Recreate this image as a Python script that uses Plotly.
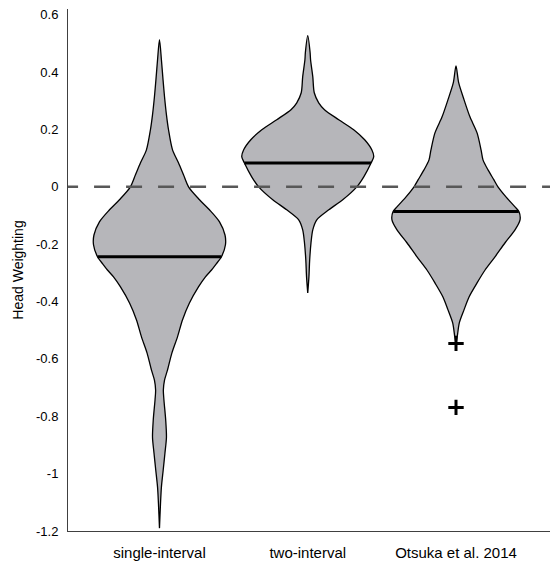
import numpy as np
import plotly.graph_objects as go

categories = ["single-interval", "two-interval", "Otsuka et al. 2014"]
positions = [1, 2, 3]

# density profiles: y values and half-widths (x units)
single_y = [0.513, 0.443, 0.373, 0.314, 0.251, 0.199, 0.129, 0.084, 0.042, 0.0,
            -0.045, -0.080, -0.122, -0.168, -0.202, -0.244, -0.272, -0.290, -0.314,
            -0.349, -0.405, -0.464, -0.524, -0.579, -0.639, -0.674, -0.709, -0.743,
            -0.813, -0.873, -0.928, -0.988, -1.047, -1.103, -1.190]
single_w = [0.0, 0.013, 0.024, 0.034, 0.047, 0.061, 0.088, 0.128, 0.162, 0.196,
            0.270, 0.337, 0.405, 0.442, 0.445, 0.418, 0.378, 0.351, 0.310,
            0.263, 0.202, 0.155, 0.121, 0.084, 0.054, 0.034, 0.026, 0.030,
            0.042, 0.047, 0.037, 0.025, 0.013, 0.007, 0.0]

two_y = [0.527, 0.468, 0.443, 0.384, 0.328, 0.293, 0.269, 0.234, 0.199, 0.164,
         0.129, 0.105, 0.084, 0.035, 0.0, -0.045, -0.080, -0.115, -0.150, -0.195,
         -0.255, -0.314, -0.370]
two_w = [0.0, 0.016, 0.019, 0.034, 0.044, 0.074, 0.113, 0.209, 0.310, 0.384,
         0.432, 0.445, 0.428, 0.378, 0.331, 0.236, 0.142, 0.061, 0.034, 0.022,
         0.013, 0.008, 0.0]

otsuka_y = [0.422, 0.363, 0.304, 0.244, 0.188, 0.129, 0.094, 0.059, 0.024, 0.0,
            -0.035, -0.070, -0.087, -0.115, -0.150, -0.195, -0.244, -0.290, -0.335,
            -0.384, -0.429, -0.475, -0.524, -0.545]
otsuka_w = [0.0, 0.018, 0.054, 0.094, 0.142, 0.169, 0.182, 0.216, 0.256, 0.283,
            0.337, 0.398, 0.425, 0.432, 0.398, 0.331, 0.263, 0.196, 0.142,
            0.088, 0.054, 0.022, 0.008, 0.0]

medians = [-0.244, 0.083, -0.086]
outliers_y = [-0.546, -0.769]
outliers_x = [3, 3]

y_ticks = [-1.2, -1.0, -0.8, -0.6, -0.4, -0.2, 0.0, 0.2, 0.4, 0.6]
y_ticktext = ["-1.2", "-1", "-0.8", "-0.6", "-0.4", "-0.2", "0", "0.2", "0.4", "0.6"]

FILL = "rgb(182,182,186)"
FONT = "Liberation Sans, Arial, sans-serif"

fig = go.Figure()

profiles = [(single_y, single_w), (two_y, two_w), (otsuka_y, otsuka_w)]
for pos, (ys, ws) in zip(positions, profiles):
    ys = np.array(ys)
    ws = np.array(ws)
    xs = np.concatenate([pos + ws, (pos - ws)[::-1]])
    yy = np.concatenate([ys, ys[::-1]])
    fig.add_trace(go.Scatter(x=xs, y=yy, mode="lines", fill="toself",
                             fillcolor=FILL,
                             line=dict(color="black", width=1.3, shape="spline", smoothing=0.8),
                             hoverinfo="skip", showlegend=False))

# dashed zero line
fig.add_trace(go.Scatter(x=[0.343, 3.8], y=[0, 0], mode="lines",
                         line=dict(color="rgb(88,88,88)", width=2.5, dash="16px,16px"),
                         hoverinfo="skip", showlegend=False))

# medians
for pos, (ys, ws), m in zip(positions, profiles, medians):
    order = np.argsort(ys)
    hw = float(np.interp(m, np.array(ys)[order], np.array(ws)[order]))
    fig.add_trace(go.Scatter(x=[pos - hw, pos + hw], y=[m, m], mode="lines",
                             line=dict(color="black", width=3),
                             hoverinfo="skip", showlegend=False))

# outliers
fig.add_trace(go.Scatter(x=outliers_x, y=outliers_y, mode="markers",
                         marker=dict(symbol="cross-thin", size=11,
                                     line=dict(color="black", width=3)),
                         hoverinfo="skip", showlegend=False))

fig.update_layout(
    width=550, height=568,
    margin=dict(l=68, r=0, t=9, b=37),
    plot_bgcolor="white", paper_bgcolor="white",
    font=dict(family=FONT, size=13, color="black"),
    showlegend=False,
)
fig.update_xaxes(range=[0.383, 3.634], tickvals=positions, ticktext=categories,
                 showline=True, linecolor="rgb(64,64,64)", linewidth=1,
                 showgrid=False, zeroline=False, ticks="", ticklabelstandoff=8,
                 automargin=False,
                 tickfont=dict(size=15, family=FONT, color="black"))
fig.update_yaxes(range=[-1.2, 0.62], tickvals=y_ticks, ticktext=y_ticktext,
                 showline=True, linecolor="rgb(64,64,64)", linewidth=1,
                 showgrid=False, zeroline=False, ticks="", ticklabelstandoff=6,
                 automargin=False,
                 tickfont=dict(size=13, family=FONT, color="black"),
                 title=dict(text="Head Weighting", font=dict(size=14, family=FONT, color="black"),
                            standoff=9))

fig.write_html("out.html", config={"displayModeBar": False},
               post_script="document.body.style.margin='0';document.body.style.overflow='hidden';")
